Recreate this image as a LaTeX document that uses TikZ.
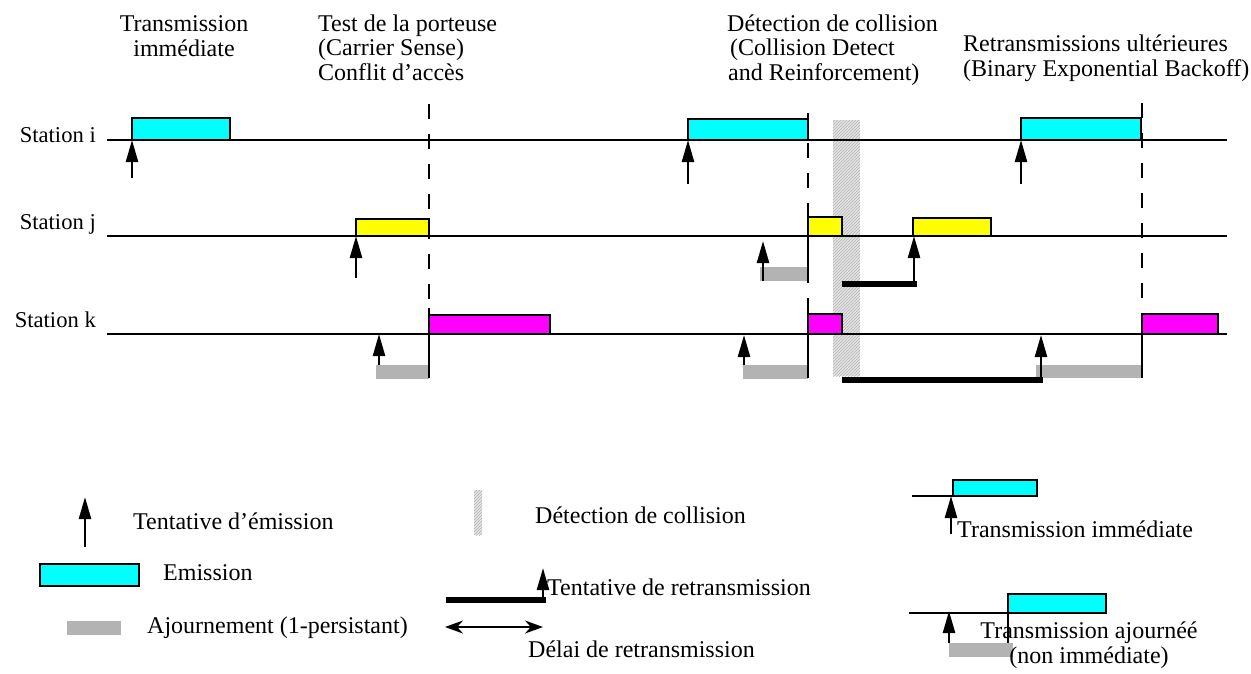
\documentclass[tikz,border=0pt]{standalone}
\usepackage{fontspec}
\setmainfont{Liberation Serif}
\usetikzlibrary{arrows.meta,patterns}
\definecolor{cyanb}{RGB}{0,255,255}
\definecolor{yelb}{RGB}{255,255,0}
\definecolor{magb}{RGB}{255,0,255}
\definecolor{grayb}{RGB}{179,179,179}
\begin{document}
\begin{tikzpicture}[x=1pt,y=-1pt,
 txt/.style={inner sep=0pt, font=\fontsize{24pt}{24.5pt}\selectfont},
 stlabel/.style={inner sep=0pt, font=\fontsize{22.6pt}{24pt}\selectfont, anchor=base east},
 stline/.style={line width=2.5pt},
 frame/.style={draw, line width=2.5pt},
 tick/.style={line width=2.5pt},
 vdash/.style={line width=2.5pt, dash pattern=on 15pt off 15pt},
 arr/.style={line width=2.4pt, -{Triangle[length=22pt,width=12pt]}},
 blkbar/.style={fill=black},
 defer/.style={fill=grayb},
 hatch/.style={fill=gray!20, postaction={pattern=north east lines, pattern color=gray!60}},
]
\useasboundingbox (0,0) rectangle (1251,673);

% collision detection column
\path[hatch] (833,120) rectangle (860,376);

% station lines
\coordinate (iL) at (107,140); \coordinate (iR) at (1227,140);
\coordinate (jL) at (107,236); \coordinate (jR) at (1227,236);
\coordinate (kL) at (107,334); \coordinate (kR) at (1227,334);
\draw[stline] (iL) -- (iR);
\draw[stline] (jL) -- (jR);
\draw[stline] (kL) -- (kR);

\node[stlabel] (si) at (96,142) {Station i};
\node[stlabel] (sj) at (96,229) {Station j};
\node[stlabel] (sk) at (96,327) {Station k};

% emissions
\path[frame, fill=cyanb] (132,118) rectangle (230,140);
\path[frame, fill=cyanb] (688,119) rectangle (808,140);
\path[frame, fill=cyanb] (1021,118) rectangle (1141,140);
\path[frame, fill=yelb] (356,219) rectangle (429,236);
\path[frame, fill=yelb] (808,217) rectangle (842,236);
\path[frame, fill=yelb] (913,218) rectangle (991,236);
\path[frame, fill=magb] (429,315) rectangle (550,334);
\path[frame, fill=magb] (808,314) rectangle (842,334);
\path[frame, fill=magb] (1142,314) rectangle (1218,334);

% deferrals
\path[defer] (376,365) rectangle (429,379);
\path[defer] (760,267) rectangle (808,281);
\path[defer] (743,365) rectangle (808,379);
\path[defer] (1036,365) rectangle (1142,378);

% backoff delays
\path[blkbar] (842,281) rectangle (917,287);
\path[blkbar] (842,377) rectangle (1043,383);

% vertical markers
\draw[vdash] (429,104) -- (429,308);
\draw[tick] (429,308) -- (429,378);
\draw[vdash] (808,113) -- (808,205);
\draw[tick] (808,205) -- (808,283);
\draw[tick] (808,298) -- (808,378);
\draw[vdash] (1142,103) -- (1142,313);
\draw[tick] (1142,313) -- (1142,378);

% attempts
\draw[arr] (132,178) -- (132,140);
\draw[arr] (688,184) -- (688,140);
\draw[arr] (1021,184) -- (1021,140);
\draw[arr] (356,278) -- (356,236);
\draw[arr] (763,281) -- (763,241);
\draw[arr] (914,284) -- (914,236);
\draw[arr] (379,365) -- (379,334);
\draw[arr] (744,365) -- (744,335);
\draw[arr] (1041,377) -- (1041,335);

% titles (anchor = baseline of last line)
\node[txt, align=center, anchor=base] (t1) at (184,56) {Transmission\\immédiate};
\node[txt, align=left, anchor=base west] (t2) at (318,80) {Test de la porteuse\\(Carrier Sense)\\Conflit d’accès};
\node[txt, align=left, anchor=base west] (t3) at (727,80) {Détection de collision\\\hspace*{3pt}(Collision Detect\\\hspace*{1pt}and Reinforcement)};
\node[txt, align=left, anchor=base west] (t4) at (963,76) {Retransmissions ultérieures\\(Binary Exponential Backoff)};

% legend left
\draw[arr] (85,547) -- (85,497);
\node[txt, anchor=base west] (l1) at (133,529) {Tentative d’émission};
\path[frame, fill=cyanb] (40,564) rectangle (139,586);
\node[txt, anchor=base west] (l2) at (163,580) {Emission};
\path[defer] (67,621) rectangle (121,635);
\node[txt, anchor=base west] (l3) at (147,633) {Ajournement (1-persistant)};

% legend middle
\path[hatch] (474,490) rectangle (482,535);
\node[txt, anchor=base west] (l4) at (535,523) {Détection de collision};
\path[blkbar] (446,597) rectangle (546,603);
\draw[arr] (543,597) -- (543,568);
\node[txt, anchor=base west] (l5) at (547,595) {Tentative de retransmission};
\draw[line width=2.4pt, {Stealth[length=18pt,width=13pt]}-{Stealth[length=18pt,width=13pt]}] (445,627) -- (543,627);
\node[txt, anchor=base west] (l6) at (528,657) {Délai de retransmission};

% legend right
\draw[stline] (912,496) -- (953,496);
\path[frame, fill=cyanb] (953,480) rectangle (1037,496);
\draw[arr] (951,534) -- (951,496);
\node[txt, anchor=base west] (l7) at (957,537) {Transmission immédiate};
\draw[stline] (909,613) -- (1008,613);
\path[frame, fill=cyanb] (1008,594) rectangle (1106,613);
\path[defer] (949,643) rectangle (1013,657);
\draw[tick] (1008,613) -- (1008,643);
\draw[arr] (949,643) -- (949,611);
\node[txt, align=center, anchor=base] (l8) at (1089,663) {Transmission ajournéé\\(non immédiate)};
\end{tikzpicture}
\end{document}
